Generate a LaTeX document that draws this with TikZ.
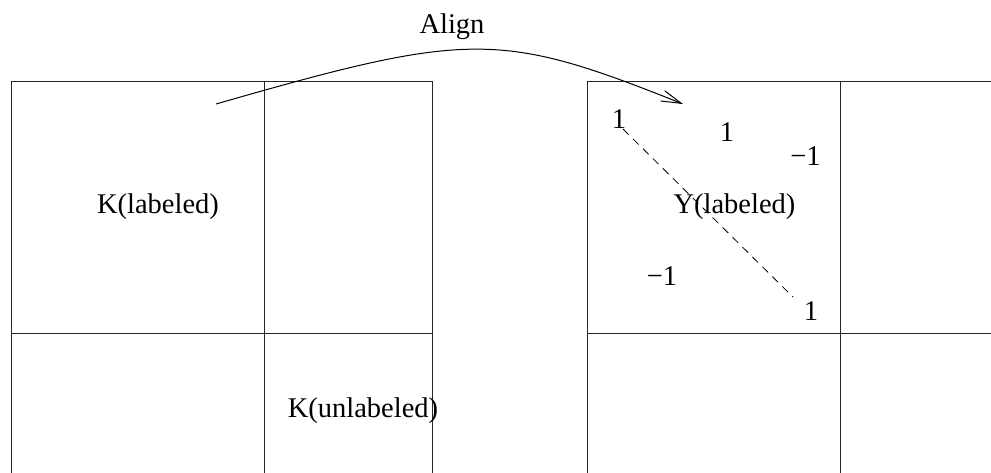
\documentclass[tikz,border=0pt]{standalone}
\usepackage{fontspec}
\setmainfont{Liberation Serif}
\usetikzlibrary{arrows.meta}
\begin{document}
\begin{tikzpicture}[x=1pt,y=-1pt,
  gridline/.style={draw=black!85,line width=1pt},
  lbl/.style={inner sep=0pt,anchor=base,font=\fontsize{28.5}{34}\selectfont},
  alignarrow/.style={draw=black,line width=1pt,-{Straight Barb[length=20pt,width=11pt]}},
  diag/.style={draw=black,line width=0.8pt,dash pattern=on 8pt off 6pt}]
\useasboundingbox (0,0) rectangle (991,472);
\clip (0,0) rectangle (991,472);
% left grid
\draw[gridline] (11,490) -- (11,81) -- (432,81) -- (432,490);
\draw[gridline] (264,81) -- (264,490);
\draw[gridline] (11,333) -- (432,333);
% right grid
\draw[gridline] (587,490) -- (587,81) -- (1000,81);
\draw[gridline] (840,81) -- (840,490);
\draw[gridline] (587,333) -- (1000,333);
% labels
\node[lbl] (align) at (452,33) {Align};
\node[lbl] (klab) at (158,213) {K(labeled)};
\node[lbl] (kunlab) at (363,417) {K(unlabeled)};
\node[lbl] (ylab) at (734.5,213) {Y(labeled)};
\node[lbl] (a1) at (619,128) {1};
\node[lbl] (a2) at (727,141) {1};
\node[lbl] (a3) at (805.5,165) {−1};
\node[lbl] (a4) at (662,285) {−1};
\node[lbl] (a5) at (811,320) {1};
% dashed diagonal
\coordinate (d1) at (623,129);
\coordinate (d2) at (793,297);
\draw[diag] (d1) -- (d2);
% align arrow
\coordinate (s) at (216,104);
\coordinate (t) at (683,104);
\draw[alignarrow] (s) .. controls (470,31) and (500,31) .. (t);
\end{tikzpicture}
\end{document}
